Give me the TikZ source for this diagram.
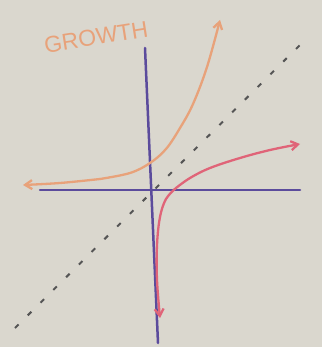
\documentclass[tikz,border=0pt]{standalone}
\usepackage{fontspec}
\setmainfont{Liberation Sans}
\usetikzlibrary{arrows.meta}
\definecolor{paper}{HTML}{DAD7CE}
\definecolor{axiscol}{HTML}{5B4B9C}
\definecolor{expcol}{HTML}{E8A27A}
\definecolor{logcol}{HTML}{E06478}
\definecolor{dashcol}{HTML}{555555}
\tikzset{
  axisline/.style={draw=axiscol, line width=2.5pt, line cap=round},
  curveline/.style={line width=2.3pt, line cap=round, line join=round},
  tip/.style={-{Straight Barb[length=7pt,width=9pt]}},
  identity/.style={draw=dashcol, line width=2pt, dash pattern=on 5pt off 13pt},
  label/.style={text=expcol, font=\fontsize{23}{25}\selectfont, inner sep=0pt}
}
\begin{document}
\begin{tikzpicture}[x=1pt,y=-1pt]
\fill[paper] (0,0) rectangle (322,347);
\useasboundingbox (0,0) rectangle (322,347);
% coordinates
\coordinate (ytop) at (145,48);
\coordinate (ybot) at (158,343);
\coordinate (xleft) at (40,190);
\coordinate (xright) at (300,190);
\coordinate (dstart) at (15,328);
\coordinate (dend) at (305,40);
% identity line
\draw[identity] (dstart) -- (dend);
% axes
\draw[axisline] (ytop) -- (ybot);
\draw[axisline] (xleft) -- (xright);
% exponential
\draw[curveline, expcol, tip] plot[smooth, tension=0.6] coordinates {(100,179) (60,183) (23,185)};
\draw[curveline, expcol, tip] plot[smooth, tension=0.6] coordinates {(100,179) (130,173) (150,163) (166,149) (180,128) (193,104) (207,67) (220,20)};
% logarithm
\draw[curveline, logcol, tip] plot[smooth, tension=0.6] coordinates {(176,188) (166,199) (160,217) (157,245) (157,280) (160,318)};
\draw[curveline, logcol, tip] plot[smooth, tension=0.6] coordinates {(176,188) (190,178) (210,168) (240,158) (270,150) (300,144)};
% title
\node[label, rotate=9] (title) at (96,37) {GROWTH};
\end{tikzpicture}
\end{document}
